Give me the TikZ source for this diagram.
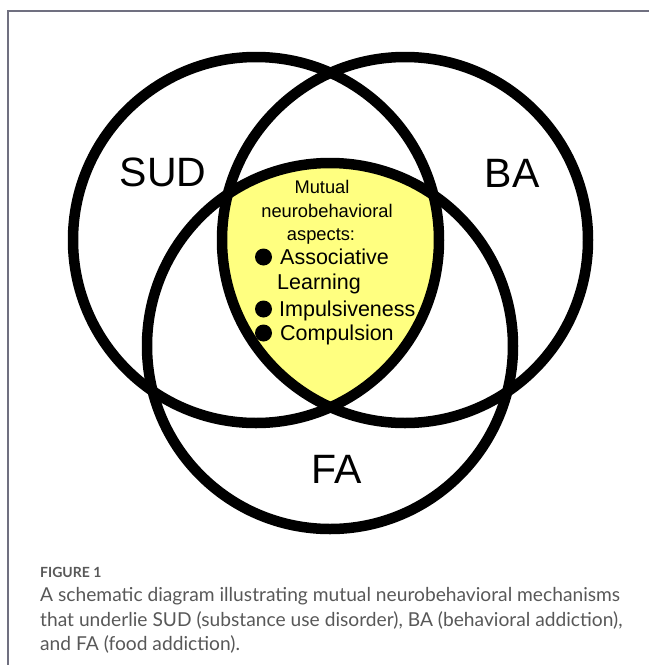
\documentclass[tikz,border=0pt]{standalone}
\usepackage{fontspec}
\setmainfont{Liberation Sans}
\newfontfamily\capfont{Lato}
\usetikzlibrary{positioning}
\definecolor{venyellow}{RGB}{255,255,128}
\definecolor{framegray}{RGB}{112,112,128}
\definecolor{capgray}{RGB}{88,88,88}
\tikzset{
  ring/.style={draw=black, line width=10.5pt},
  setlabel/.style={font=\fontsize{41}{44}\selectfont, inner sep=0pt},
  aspect/.style={font=\fontsize{18.3}{22}\selectfont, inner sep=0pt, anchor=base},
  item/.style={font=\fontsize{21.5}{24}\selectfont, inner sep=0pt, anchor=base west},
  dot/.style={circle, fill=black, minimum size=17pt, inner sep=0pt},
  captext/.style={font=\capfont\fontsize{19.2}{22}\selectfont, text=capgray, inner sep=0pt, anchor=base west},
}

\begin{document}
\begin{tikzpicture}[x=1pt,y=-1pt]
\useasboundingbox (0,0) rectangle (649,665);
% frame of the figure box
\draw[framegray, line width=1.5pt] (8,665) -- (8,11) -- (649,11);
% centres of the three sets
\coordinate (sud) at (256,240);
\coordinate (ba) at (405,240);
\coordinate (fa) at (330,346);
% shared region
\begin{scope}
  \clip (sud) circle (183pt);
  \clip (ba) circle (183pt);
  \fill[venyellow] (fa) circle (183pt);
\end{scope}
\draw[ring] (sud) circle (183pt);
\draw[ring] (ba) circle (183pt);
\draw[ring] (fa) circle (183pt);
% set names
\node[setlabel] (sudname) at (163,172) {SUD};
\node[setlabel] (baname) at (512,173) {BA};
\node[setlabel] (faname) at (337,469) {FA};
% text inside the shared region
\node[aspect] (mutual) at (322,193) {Mutual};
\node[aspect] (neuro) at (327,217) {neurobehavioral};
\node[aspect] (aspects) at (321,240) {aspects:};
\node[dot] (dota) at (263.5,257) {};
\node[item] (assoc) at (280,264) {Associative};
\node[item] (learn) at (277,289) {Learning};
\node[dot] (dotb) at (263.5,309) {};
\node[item] (impuls) at (279,316) {Impulsiveness};
\node[dot] (dotc) at (263.5,333) {};
\node[item] (compul) at (280,340) {Compulsion};
% caption
\node[captext, font=\capfont\bfseries\fontsize{14}{16}\selectfont] (fighead) at (40,577) {FIGURE 1};
\node[captext] (capa) at (40,601) {A schematic diagram illustrating mutual neurobehavioral mechanisms};
\node[captext] (capb) at (40,626) {that underlie SUD (substance use disorder), BA (behavioral addiction),};
\node[captext] (capc) at (40,650) {and FA (food addiction).};
\end{tikzpicture}
\end{document}
